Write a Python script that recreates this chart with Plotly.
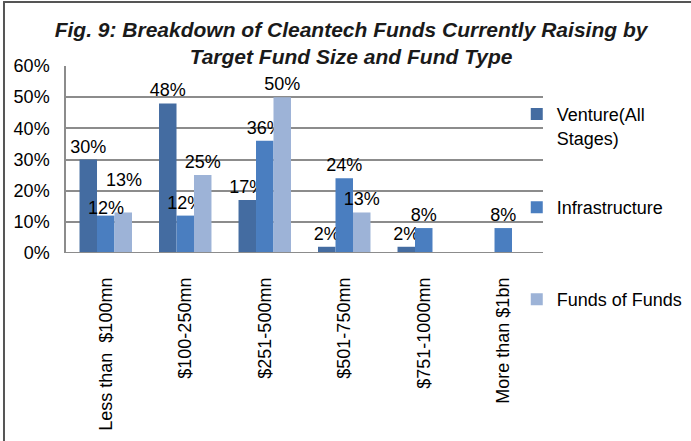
import plotly.graph_objects as go

categories = ["Less than  $100mn", "$100-250mn", "$251-500mn",
              "$501-750mn", "$751-1000mn", "More than $1bn"]
venture = [30, 48, 17, 2, 2, None]
infrastructure = [12, 12, 36, 24, 8, 8]
funds_of_funds = [13, 25, 50, 13, None, None]

series_names = ["Venture(All<br>Stages)", "Infrastructure", "Funds of Funds"]
series_colors = ["#446ca1", "#4a7ec0", "#9db3d7"]
y_ticks = [0, 10, 20, 30, 40, 50, 60]

FONT = "Liberation Sans, Arial, sans-serif"

# labels that the original nudged away from the default spot: (series, category) -> (xshift, yshift)
moved_labels = {(1, 0): (0, -4), (2, 0): (18, 20)}

fig = go.Figure()
legend_ids = ["legend", "legend2", "legend3"]
all_series = [venture, infrastructure, funds_of_funds]
for s, (name, vals, col, lg) in enumerate(zip(series_names, all_series, series_colors, legend_ids)):
    labels = []
    for c, v in enumerate(vals):
        if v is None or (s, c) in moved_labels:
            labels.append("")
        else:
            labels.append(f"{v}%")
    fig.add_trace(go.Bar(
        x=categories, y=vals, name=name, marker_color=col, marker_line_width=0,
        text=labels, textposition="outside", cliponaxis=False, constraintext="none",
        textfont=dict(size=18, color="black", family=FONT),
        legend=lg,
    ))

for (s, c), (dx, dy) in moved_labels.items():
    v = all_series[s][c]
    fig.add_annotation(x=categories[c], y=v, text=f"{v}%", showarrow=False,
                       xanchor="center", yanchor="bottom", xshift=dx, yshift=dy,
                       font=dict(size=18, color="black", family=FONT))

legend_style = dict(font=dict(size=18, color="black", family=FONT), bgcolor="rgba(0,0,0,0)",
                    xanchor="left", yanchor="top", valign="top", itemwidth=30)
fig.update_layout(
    width=691, height=441,
    margin=dict(l=66, r=148, t=66, b=188, autoexpand=False),
    paper_bgcolor="white", plot_bgcolor="white",
    font=dict(family=FONT, size=18, color="black"),
    barmode="group", bargap=0.34, bargroupgap=0,
    showlegend=True,
    title=dict(text="<b><i>Fig. 9: Breakdown of Cleantech Funds Currently Raising by<br>"
                    "Target Fund Size and Fund Type</i></b>",
               x=0.508, xanchor="center", y=0.916, yanchor="middle",
               font=dict(size=21, color="#1a1a1a", family=FONT)),
    legend=dict(x=0.945, y=0.84, **legend_style),
    legend2=dict(x=0.945, y=0.342, **legend_style),
    legend3=dict(x=0.945, y=-0.15, **legend_style),
    xaxis=dict(tickangle=-90, showline=False, ticks="", showgrid=False,
               ticklabelstandoff=20, automargin=False,
               tickfont=dict(size=18, color="black", family=FONT)),
    yaxis=dict(range=[0, 60], tickvals=y_ticks, ticktext=[f"{t}%" for t in y_ticks],
               showgrid=True, gridcolor="#8c8c8c", gridwidth=1.5,
               showline=True, linecolor="#8c8c8c", linewidth=1.5, zeroline=False,
               ticks="", ticklabelstandoff=11, automargin=False,
               tickfont=dict(size=18, color="black", family=FONT)),
)
# outer frame (only top and left edges visible in the crop)
fig.add_shape(type="line", xref="paper", yref="paper", x0=-0.132, x1=1.4, y0=1.342, y1=1.342,
              line=dict(color="#555555", width=2))
fig.add_shape(type="line", xref="paper", yref="paper", x0=-0.130, x1=-0.130, y0=-1.1, y1=1.342,
              line=dict(color="#555555", width=2))
fig.add_shape(type="line", xref="paper", yref="y", x0=0, x1=1, y0=0, y1=0,
              line=dict(color="#8c8c8c", width=2))

fig.write_html("out.html", config={"displayModeBar": False},
               post_script="document.body.style.margin='0px';")
